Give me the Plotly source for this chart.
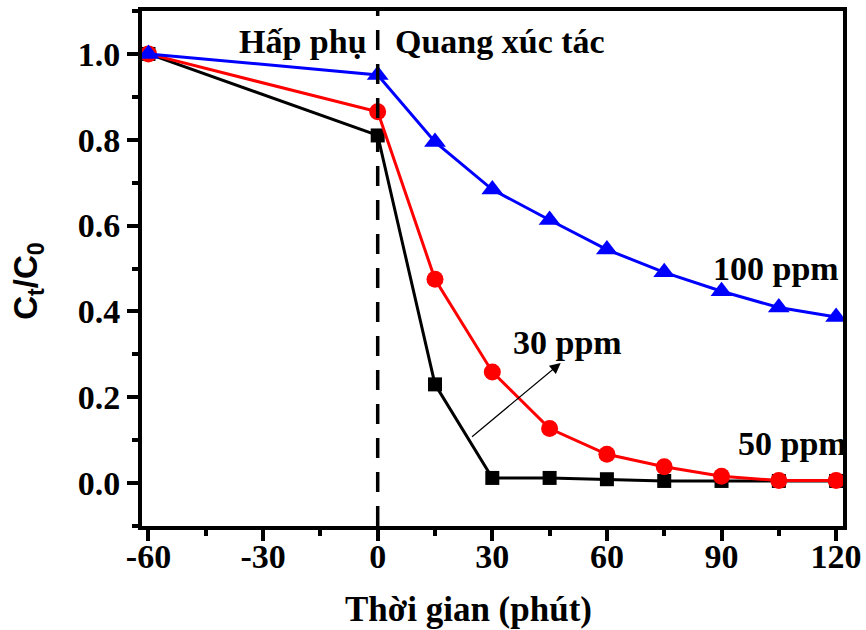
import plotly.graph_objects as go

time = [-60, 0, 15, 30, 45, 60, 75, 90, 105, 120]
c30 = [1.0, 0.81, 0.23, 0.012, 0.012, 0.009, 0.005, 0.005, 0.005, 0.005]
c50 = [1.0, 0.865, 0.475, 0.259, 0.127, 0.067, 0.038, 0.016, 0.006, 0.006]
c100 = [1.0, 0.951, 0.795, 0.684, 0.613, 0.544, 0.491, 0.447, 0.409, 0.387]

x_ticks = [-60, -30, 0, 30, 60, 90, 120]
y_ticks = [0.0, 0.2, 0.4, 0.6, 0.8, 1.0]

FONT = "Liberation Serif"

fig = go.Figure()
fig.add_trace(go.Scatter(x=time, y=c30, mode="lines+markers", name="30 ppm",
                         line=dict(color="#000000", width=3),
                         marker=dict(symbol="square", size=14, color="#000000")))
fig.add_trace(go.Scatter(x=time, y=c50, mode="lines+markers", name="50 ppm",
                         line=dict(color="#ff0000", width=3),
                         marker=dict(symbol="circle", size=17, color="#ff0000")))
fig.add_trace(go.Scatter(x=time, y=c100, mode="lines+markers", name="100 ppm",
                         line=dict(color="#0000ff", width=3),
                         marker=dict(symbol="triangle-up", size=19, color="#0000ff")))

fig.add_shape(type="line", x0=0, x1=0, y0=0, y1=1, xref="x", yref="paper",
              line=dict(color="black", width=3.5, dash="20px,14px"))

tf = dict(family=FONT, size=34, color="black", weight="bold")
ann = [
    dict(x=-19.6, y=1.028, text="Hấp phụ", xanchor="center", yanchor="middle"),
    dict(x=4.0, y=1.028, text="Quang xúc tác", xanchor="left", yanchor="middle"),
    dict(x=104.2, y=0.50, text="100 ppm", xanchor="center", yanchor="middle"),
    dict(x=49.6, y=0.327, text="30 ppm", xanchor="center", yanchor="middle"),
    dict(x=108.5, y=0.092, text="50 ppm", xanchor="center", yanchor="middle"),
]
for a in ann:
    fig.add_annotation(xref="x", yref="y", showarrow=False, font=tf, **a)

# arrow
fig.add_annotation(x=47.9, y=0.28, ax=24.3, ay=0.105, xref="x", yref="y",
                   axref="x", ayref="y", text="", showarrow=True,
                   arrowhead=2, arrowsize=1.8, arrowwidth=1.2, arrowcolor="black")

# axis titles
fig.add_annotation(x=23.7, y=-0.162, xref="x", yref="paper", showarrow=False,
                   text="Thời gian (phút)",
                   font=dict(family=FONT, size=35, color="black", weight="bold"),
                   xanchor="center", yanchor="middle")
fig.add_annotation(x=-0.162, y=0.47, xref="paper", yref="y", showarrow=False,
                   text="C<sub>t</sub>/C<sub>0</sub>", textangle=-90,
                   font=dict(family="Liberation Sans", size=33, color="black", weight="bold"),
                   xanchor="center", yanchor="middle")

axis_common = dict(showgrid=False, zeroline=False, showline=True, linecolor="black",
                   linewidth=4, mirror=True, ticks="outside", ticklen=11, tickwidth=4,
                   tickcolor="black", automargin=False,
                   tickfont=dict(family=FONT, size=34, color="black", weight="bold"))

fig.update_xaxes(range=[-61.7, 121.8], tickvals=x_ticks,
                 ticktext=[str(v) for v in x_ticks], ticklabelstandoff=-14,
                 minor=dict(dtick=15, tick0=-60, ticks="outside", ticklen=6,
                            tickwidth=4, tickcolor="black"),
                 **axis_common)
fig.update_yaxes(range=[-0.1, 1.1], tickvals=y_ticks,
                 ticktext=[f"{v:.1f}" for v in y_ticks],
                 minor=dict(dtick=0.1, tick0=0, ticks="outside", ticklen=6,
                            tickwidth=4, tickcolor="black"),
                 **axis_common)

fig.update_layout(width=866, height=630, showlegend=False,
                  margin=dict(l=142, r=23, t=11, b=104),
                  plot_bgcolor="white", paper_bgcolor="white")

fig.write_html("out.html")
